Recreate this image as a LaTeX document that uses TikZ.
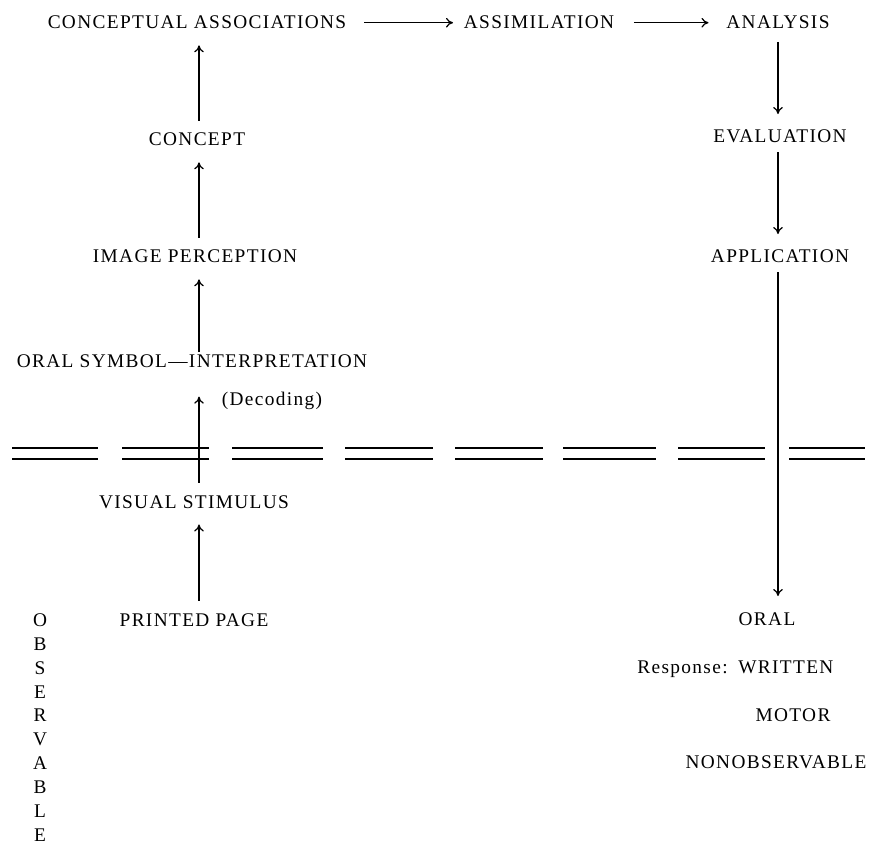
\documentclass[tikz,border=0pt]{standalone}
\usepackage{fontspec}
\setmainfont{Liberation Serif}[LetterSpace=7]
\usepackage{tikz}
\usetikzlibrary{arrows.meta}

\begin{document}
\begin{tikzpicture}[x=0.02cm,y=-0.02cm,
		lbl/.style={inner sep=0pt, anchor=base, font=\fontsize{11}{13}\selectfont},
		flow/.style={-{To[length=4pt,width=5.5pt]}, line width=0.7pt, shorten <=7pt, shorten >=9pt},
		sep/.style={line width=0.8pt}]
			\useasboundingbox (0,0) rectangle (869,844);
			\coordinate (lcol) at (199,0);
			\coordinate (rcol) at (778,0);
			
			\node[lbl] (ca) at (197, 29) {CONCEPTUAL ASSOCIATIONS};
			\node[lbl] (as) at (539, 29) {ASSIMILATION};
			\node[lbl] (an) at (778, 29) {ANALYSIS};
			\node[lbl] (cp) at (197, 146) {CONCEPT};
			\node[lbl] (ev) at (780, 143) {EVALUATION};
			\node[lbl] (ip) at (195, 263) {IMAGE PERCEPTION};
			\node[lbl] (ap) at (780, 263) {APPLICATION};
			\node[lbl] (os) at (192, 368) {ORAL SYMBOL\textemdash INTERPRETATION};
			\node[lbl] (dc) at (272, 406) {(Decoding)};
			\node[lbl] (vs) at (194, 508) {VISUAL STIMULUS};
			\node[lbl] (pp) at (194, 626) {PRINTED PAGE};
			
			\node[lbl] (or) at (767, 625) {ORAL};
			\node[lbl, anchor=base west] (wr) at (738, 673) {WRITTEN};
			\node[lbl, anchor=base east] (rs) at (728, 673) {Response:};
			\node[lbl] (mo) at (793, 721) {MOTOR};
			\node[lbl] (no) at (776, 768) {NONOBSERVABLE};
			
			\foreach \l [count=\i] in {O,B,S,E,R,V,A,B,L,E}
				\node[lbl, anchor=center] (ob\i) at (40, {620+23.9*(\i-1)}) {\l};
			
			\foreach \a/\b in {12/98, 122/209, 232/323, 345/433, 455/543, 563/656, 678/765, 789/865}
				\draw[sep] (\a,448) -- (\b,448) (\a,459) -- (\b,459);
			
			\draw[flow, shorten <=10pt, shorten >=6pt] (ca.east) -- (as.west);
			\draw[flow, shorten <=11pt, shorten >=10pt] (as.east) -- (an.west);
			
			\draw[flow] (cp.north -| lcol) -- (ca.south -| lcol);
			\draw[flow] (ip.north -| lcol) -- (cp.south -| lcol);
			\draw[flow, shorten <=1.5pt] (os.north -| lcol) -- (ip.south -| lcol);
			\draw[flow, shorten >=16pt] (vs.north -| lcol) -- (os.south -| lcol);
			\draw[flow] (pp.north -| lcol) -- (vs.south -| lcol);
			
			\draw[flow] (an.south -| rcol) -- (ev.north -| rcol);
			\draw[flow, shorten <=5pt] (ev.south -| rcol) -- (ap.north -| rcol);
			\draw[flow, shorten <=5pt] (ap.south -| rcol) -- (or.north -| rcol);
		\end{tikzpicture}
\end{document}
